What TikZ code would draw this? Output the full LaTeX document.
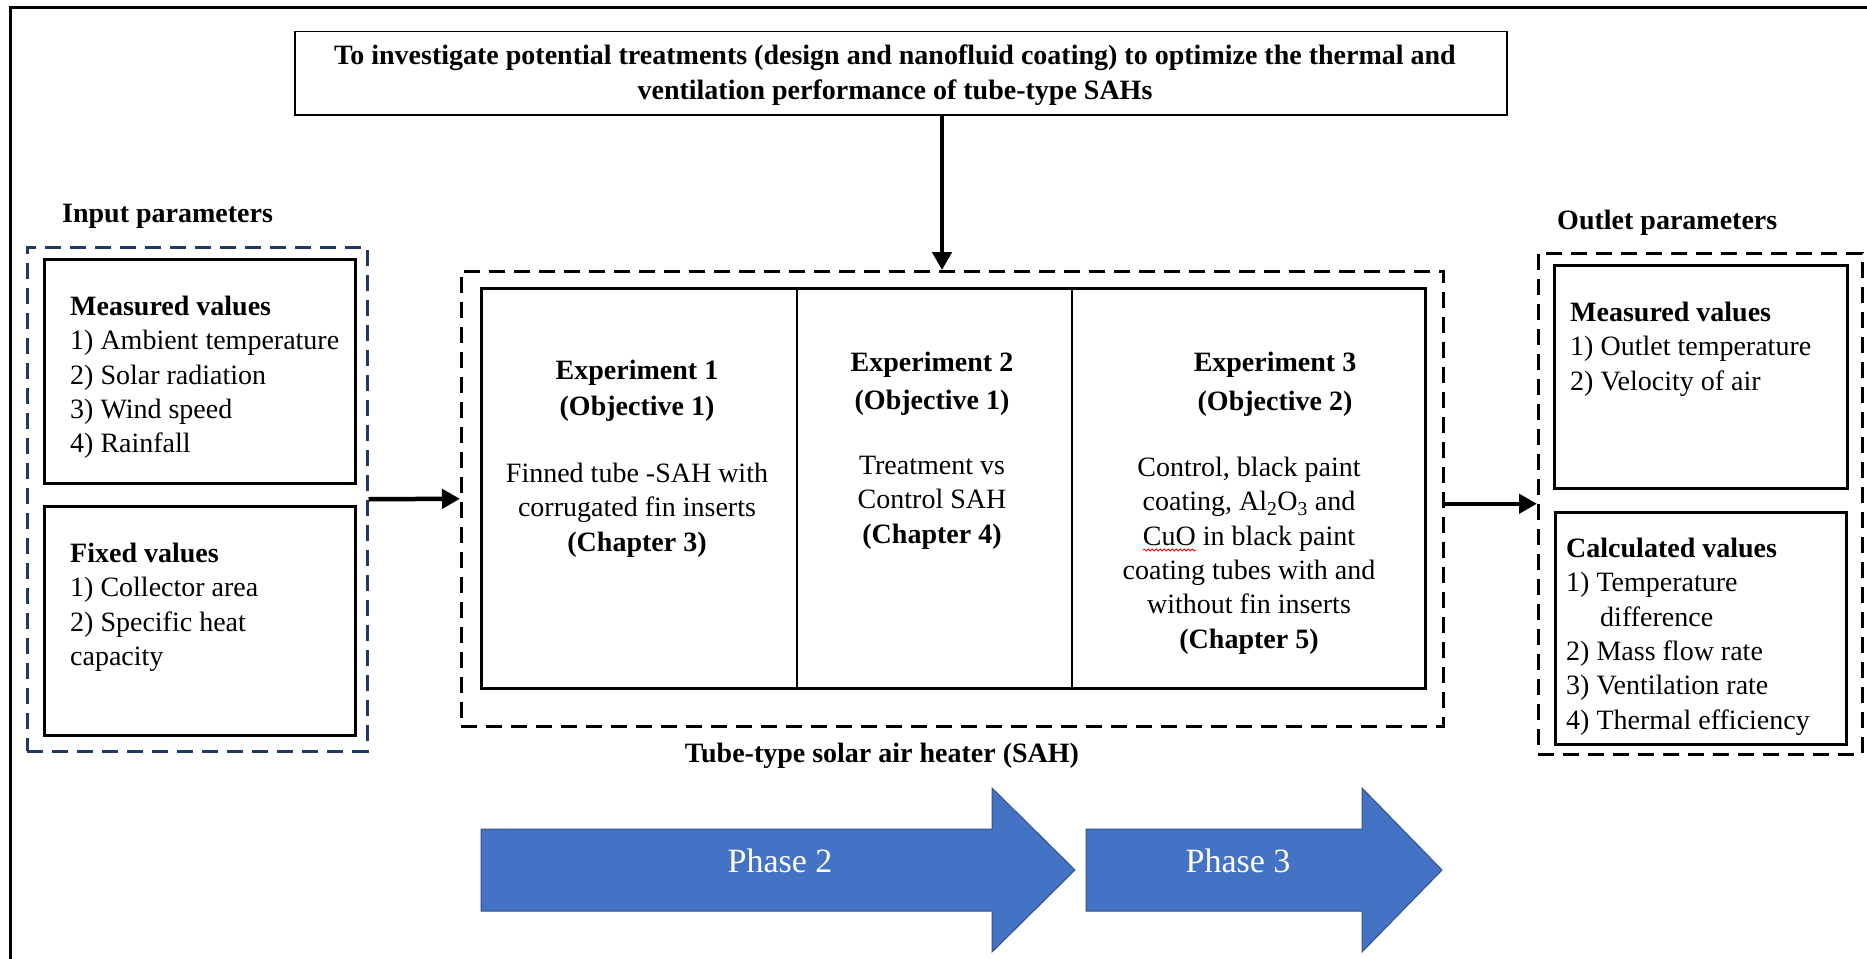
\documentclass[tikz,border=0pt]{standalone}
\usepackage{fontspec}
\setmainfont{Liberation Serif}
\usetikzlibrary{arrows.meta}
\usetikzlibrary{decorations.pathmorphing}

\definecolor{bleuphase}{RGB}{68,114,196}
\definecolor{bordphase}{RGB}{47,82,143}
\definecolor{bleunuit}{RGB}{31,56,100}

\tikzset{
  cadre/.style={draw, rectangle, line width=3pt, inner sep=0pt, anchor=north west},
  groupe/.style={draw, rectangle, line width=2.5pt, dash pattern=on 16pt off 9pt, inner sep=0pt, anchor=north west},
  fleche/.style={line width=4.5pt, -{Triangle[length=18pt,width=19pt]}},
  texte/.style={inner sep=0pt, font=\fontsize{28}{34.3}\selectfont},
  titre/.style={inner sep=0pt, font=\fontsize{28}{34.3}\selectfont\bfseries},
  phase/.style={fill=bleuphase, draw=bordphase, line width=1pt},
  etiq/.style={inner sep=0pt, text=white, font=\fontsize{34}{40}\selectfont}
}

\begin{document}
\begin{tikzpicture}[x=1pt,y=-1pt]
    \useasboundingbox (0,0) rectangle (1867,958);
    % Cadre extérieur
    \draw[line width=3pt] (10,8) rectangle (1950,1020);

    % Objectif général
    \node[cadre, line width=1.5pt, minimum width=1212pt, minimum height=83pt] (but) at (294,31) {};
    \node[titre, align=center, anchor=north] (butTxt) at (895,45)
        {To investigate potential treatments (design and nanofluid coating) to optimize the thermal and\\
         ventilation performance of tube-type SAHs};

    % Paramètres d'entrée
    \node[titre, anchor=base west] (entLbl) at (62,222) {Input parameters};
    \node[groupe, draw=bleunuit, minimum width=340pt, minimum height=504pt] (ent) at (26,246) {};
    \node[cadre, minimum width=311pt, minimum height=224pt] (entMes) at (43,258) {};
    \node[cadre, minimum width=311pt, minimum height=229pt] (entFix) at (43,505) {};
    \node[texte, align=left, anchor=north west] (entMesTxt) at (70,296)
        {\textbf{Measured values}\\1) Ambient temperature\\2) Solar radiation\\3) Wind speed\\4) Rainfall};
    \node[texte, align=left, anchor=north west] (entFixTxt) at (70,543)
        {\textbf{Fixed values}\\1) Collector area\\2) Specific heat\\capacity};

    % Chauffe-air solaire : les trois expériences
    \node[groupe, minimum width=982pt, minimum height=455pt] (sah) at (460,270) {};
    \node[cadre, line width=2.5pt, minimum width=944pt, minimum height=400pt] (exp) at (480,287) {};
    \draw[line width=2.5pt] (exp.north -| 797,0) -- (exp.south -| 797,0);
    \draw[line width=2.5pt] (exp.north -| 1072,0) -- (exp.south -| 1072,0);

    \node[titre, align=center, anchor=north, font=\fontsize{28}{36}\selectfont\bfseries] (expA) at (637,360)
        {Experiment 1\\(Objective 1)};
    \node[texte, align=center, anchor=north] (expAtxt) at (637,463)
        {Finned tube -SAH with\\corrugated fin inserts\\\textbf{(Chapter 3)}};
    \node[titre, align=center, anchor=north, font=\fontsize{28}{38}\selectfont\bfseries] (expB) at (932,352)
        {Experiment 2\\(Objective 1)};
    \node[texte, align=center, anchor=north] (expBtxt) at (932,456)
        {Treatment vs\\Control SAH\\\textbf{(Chapter 4)}};
    \node[titre, align=center, anchor=north, font=\fontsize{28}{39}\selectfont\bfseries] (expC) at (1275,352)
        {Experiment 3\\(Objective 2)};
    \node[texte, align=center, anchor=north] (expCtxt) at (1249,457)
        {Control, black paint\\coating, Al\textsubscript{2}O\textsubscript{3} and\\CuO in black paint\\
         coating tubes with and\\without fin inserts\\\textbf{(Chapter 5)}};
    % soulignement du correcteur
    \draw[red, line width=0.8pt, decorate, decoration={snake, segment length=4pt, amplitude=1pt}]
        (1143,550) -- (1196,550);

    \node[titre, anchor=base] (sahLbl) at (882,762) {Tube-type solar air heater (SAH)};

    % Paramètres de sortie
    \node[titre, anchor=base west] (sorLbl) at (1557,229) {Outlet parameters};
    \node[groupe, minimum width=324pt, minimum height=501pt] (sor) at (1537,252) {};
    \node[cadre, minimum width=293pt, minimum height=223pt] (sorMes) at (1553,264) {};
    \node[cadre, minimum width=291pt, minimum height=232pt] (sorCal) at (1554,511) {};
    \node[texte, align=left, anchor=north west] (sorMesTxt) at (1570,302)
        {\textbf{Measured values}\\1) Outlet temperature\\2) Velocity of air};
    \node[texte, align=left, anchor=north west] (sorCalTxt) at (1566,538)
        {\textbf{Calculated values}\\1) Temperature\\\hspace*{34pt}difference\\2) Mass flow rate\\
         3) Ventilation rate\\4) Thermal efficiency};

    % Flèches entre les blocs
    \draw[fleche] (but.south -| 942,0) -- (sah.north -| 942,0);
    \draw[fleche] (ent.east) -- (sah.west);
    \draw[fleche] (sah.east |- sor.west) -- (sor.west);

    % Phases
    \filldraw[phase] (481,829) -- (992,829) -- (992,788) -- (1075,870) -- (992,952) -- (992,911) -- (481,911) -- cycle;
    \filldraw[phase] (1086,829) -- (1362,829) -- (1362,788) -- (1442,870) -- (1362,952) -- (1362,911) -- (1086,911) -- cycle;
    \node[etiq, anchor=base] (phA) at (780,872) {Phase 2};
    \node[etiq, anchor=base] (phB) at (1238,872) {Phase 3};
\end{tikzpicture}
\end{document}
